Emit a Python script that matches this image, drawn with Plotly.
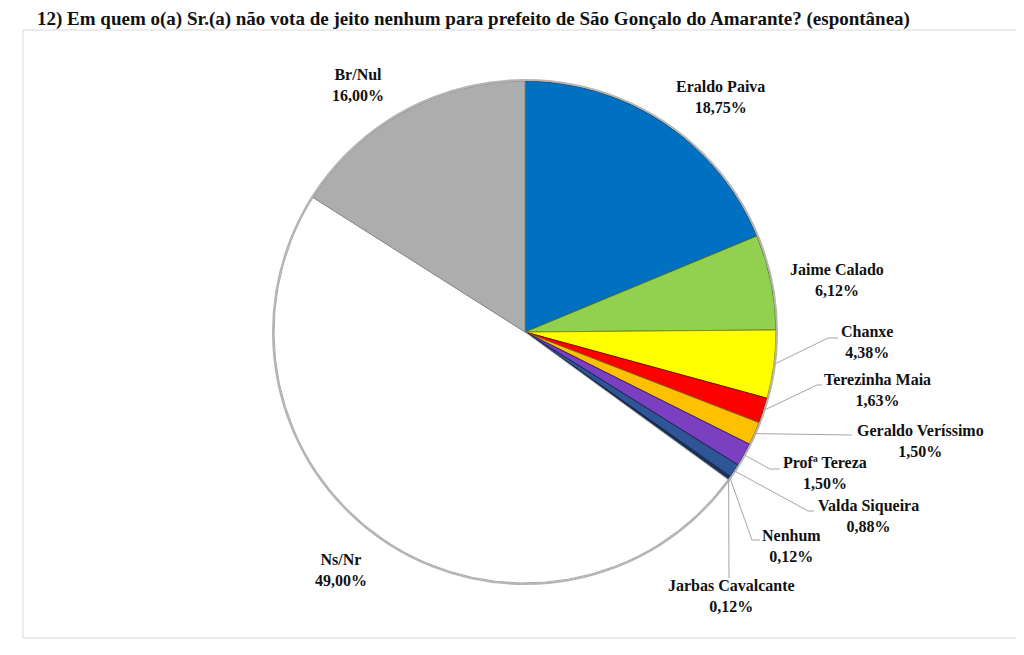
import math
import plotly.graph_objects as go

# ---- data ----
categories = ["Eraldo Paiva", "Jaime Calado", "Chanxe", "Terezinha Maia",
              "Geraldo Veríssimo", "Profª Tereza", "Valda Siqueira", "Nenhum",
              "Jarbas Cavalcante", "Ns/Nr", "Br/Nul"]
values = [18.75, 6.12, 4.38, 1.63, 1.50, 1.50, 0.88, 0.12, 0.12, 49.00, 16.00]
colors = ["#0070C0", "#92D050", "#FFFF00", "#FF0000", "#FFC000", "#7B3FC2",
          "#2F5597", "#1F3864", "#243F6E", "#FFFFFF", "#ADADAD"]
edge_colors = ["#0B3E6B", "#4F7A22", "#8C8C00", "#8C0000", "#8C6A00", "#3E1D66",
               "#15284A", "#15284A", "#15284A", "#A6A6A6", "#8A8A8A"]
title = "12) Em quem o(a) Sr.(a) não vota de jeito nenhum para prefeito de São Gonçalo do Amarante? (espontânea)"

# ---- layout geometry (screen pixels) ----
W, H = 1024, 655
OFF = 8  # page offset of the plot inside the browser window
CX, CY, R = 525, 332, 251
FONT = "Liberation Serif"

# label centre positions and leader-line elbows (None = no leader)
label_pos = [(720, 97), (837, 280), (867, 342), (877, 390), (920, 441),
             (825, 473), (868, 516), (791, 546), (731, 596), (341, 570), (358, 85)]
leader_pts = [None, None,
              [(828, 338), (838, 338)],
              [(817, 385), (822, 385)],
              [(852, 435)],
              [(770, 469), (780, 469)],
              [(808, 511), (814, 511)],
              [(752, 540), (760, 540)],
              [(729, 578)],
              None, None]

fig = go.Figure()

fig.add_trace(go.Pie(
    labels=categories, values=values, sort=False, direction="clockwise",
    rotation=0, textinfo="none", hoverinfo="skip", showlegend=False,
    marker=dict(colors=colors, line=dict(color=edge_colors, width=1)),
    domain=dict(x=[(CX - R - OFF) / W, (CX + R - OFF) / W],
                y=[1 - (CY + R - OFF) / H, 1 - (CY - R - OFF) / H]),
))

# invisible pixel axes for overlays
fig.add_trace(go.Scatter(x=[OFF, W + OFF], y=[OFF, H + OFF], mode="markers",
                         marker=dict(opacity=0), hoverinfo="skip", showlegend=False))

shapes = []
# outer frame
shapes.append(dict(type="rect", x0=23, y0=30, x1=1040, y1=638,
                   line=dict(color="#D9D9D9", width=1), xref="x", yref="y", layer="below"))
# soft bevel ring
shapes.append(dict(type="circle", x0=CX - R - 1, y0=CY - R - 1, x1=CX + R + 1, y1=CY + R + 1,
                   line=dict(color="#B5B5B5", width=2), xref="x", yref="y"))

annotations = []
total = sum(values)
cum = 0.0
for i, (cat, v) in enumerate(zip(categories, values)):
    mid = (cum + v / 2) / total * 2 * math.pi
    cum += v
    sx = CX + R * math.sin(mid)
    sy = CY - R * math.cos(mid)
    if leader_pts[i]:
        pts = [(sx, sy)] + leader_pts[i]
        path = "M " + " L ".join(f"{x:.1f},{y:.1f}" for x, y in pts)
        shapes.append(dict(type="path", path=path, xref="x", yref="y",
                           line=dict(color="#A6A6A6", width=1)))
    lx, ly = label_pos[i]
    txt = f"{cat}<br>{v:.2f}".replace(".", ",") + "%"
    annotations.append(dict(x=lx, y=ly, xref="x", yref="y", text=txt, showarrow=False,
                            xanchor="center", yanchor="middle", align="center",
                            font=dict(family=FONT, size=16, color="#111111", weight="bold")))

annotations.append(dict(x=35, y=19, xref="x", yref="y", text=title, showarrow=False,
                        xanchor="left", yanchor="middle",
                        font=dict(family=FONT, size=19, color="#111111", weight="bold")))

fig.update_layout(
    width=W, height=H, margin=dict(l=0, r=0, t=0, b=0),
    paper_bgcolor="white", plot_bgcolor="rgba(0,0,0,0)",
    xaxis=dict(range=[OFF, W + OFF], visible=False, fixedrange=True, domain=[0, 1]),
    yaxis=dict(range=[H + OFF, OFF], visible=False, fixedrange=True, domain=[0, 1]),
    shapes=shapes, annotations=annotations,
)

fig.write_html("out.html")
